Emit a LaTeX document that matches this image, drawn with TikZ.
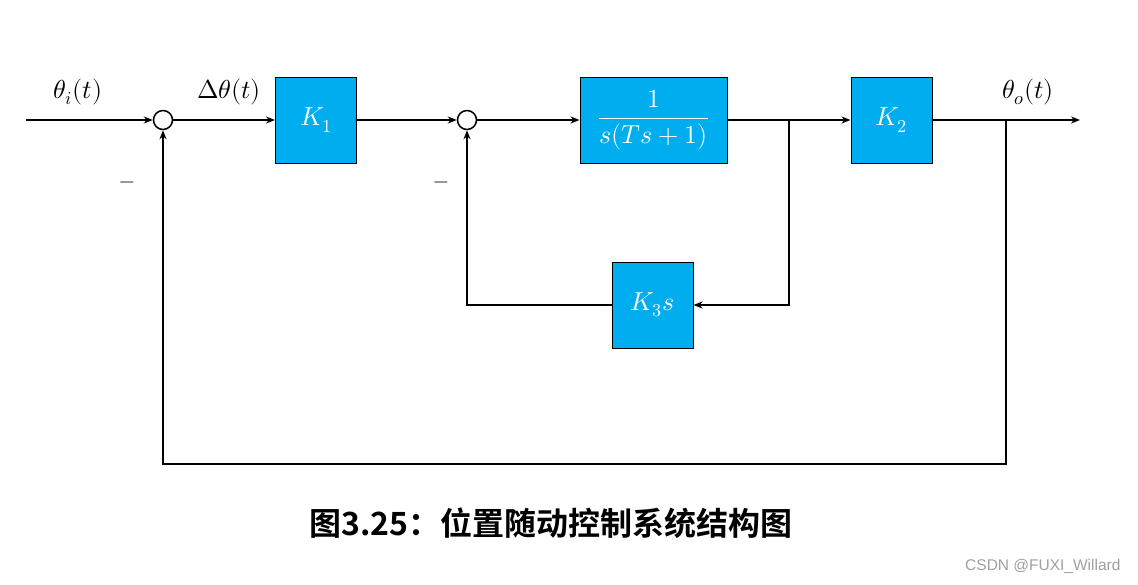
\documentclass[tikz,border=0pt]{standalone}
\usepackage{amsmath}
\usepackage{fontspec}
\usepackage{unicode-math}
\setmathfont{Latin Modern Math}
\newfontfamily\cjkbold[BoldFont=Noto Sans CJK SC Bold]{Noto Sans CJK SC}
\setsansfont{Liberation Sans}
\usetikzlibrary{arrows.meta}
\definecolor{boxblue}{RGB}{0,173,239}
\definecolor{wmgray}{RGB}{160,160,160}
\begin{document}
\begin{tikzpicture}[x=1pt,y=-1pt,
  blk/.style={draw=black,line width=1pt,fill=boxblue,text=white,minimum width=81pt,minimum height=86pt,inner sep=0pt,font=\fontsize{26}{30}\selectfont},
  sumc/.style={circle,draw=black,line width=1.5pt,minimum size=19pt,inner sep=0pt},
  wire/.style={line width=1.9pt},
  arr/.style={wire,-{Stealth[length=9pt,width=7pt]}},
  lbl/.style={font=\fontsize{26}{30}\selectfont},
  minus/.style={font=\fontsize{20}{24}\selectfont}]
\useasboundingbox (0,0) rectangle (1138,584);
\fill[white] (0,0) rectangle (1138,584);
% nodes
\coordinate (in) at (26,120);
\node[sumc] (s1) at (163,120) {};
\node[blk] (k1) at (316,120) {$K_1$};
\node[sumc] (s2) at (467,120) {};
\node[blk,minimum width=147pt] (g) at (653.5,120) {$\dfrac{1}{s(Ts+1)}$};
\node[blk] (k2) at (891.5,120) {$K_2$};
\node[blk] (k3) at (652.5,305) {$K_3s$};
\coordinate (out) at (1080,120);
\coordinate (b1) at (789,120);
\coordinate (b2) at (1006,120);
\coordinate (bot) at (163,464);
% labels
\node[lbl] (ti) at (78,92) {$\theta_i(t)$};
\node[lbl] (dt) at (229,92) {$\Delta\theta(t)$};
\node[lbl] (to) at (1028,92) {$\theta_o(t)$};
\node[minus] (m1) at (127,185) {$-$};
\node[minus] (m2) at (441,185) {$-$};
% connectors
\draw[arr] (in) -- (s1.west);
\draw[arr] (s1.east) -- (k1.west);
\draw[arr] (k1.east) -- (s2.west);
\draw[arr] (s2.east) -- (g.west);
\draw[arr] (g.east) -- (k2.west);
\draw[arr] (k2.east) -- (out);
\draw[arr] (b1) |- (k3.east);
\draw[arr] (k3.west) -| (s2.south);
\draw[arr] (b2) |- (bot) -- (s1.south);
% caption
\node (cap) at (551,523) {\cjkbold\bfseries\fontsize{32}{36}\selectfont 图3.25：位置随动控制系统结构图};
\node[text=wmgray,anchor=east] (wm) at (1124,566) {\sffamily\fontsize{15.5}{18}\selectfont CSDN @FUXI\_Willard};
\end{tikzpicture}
\end{document}
